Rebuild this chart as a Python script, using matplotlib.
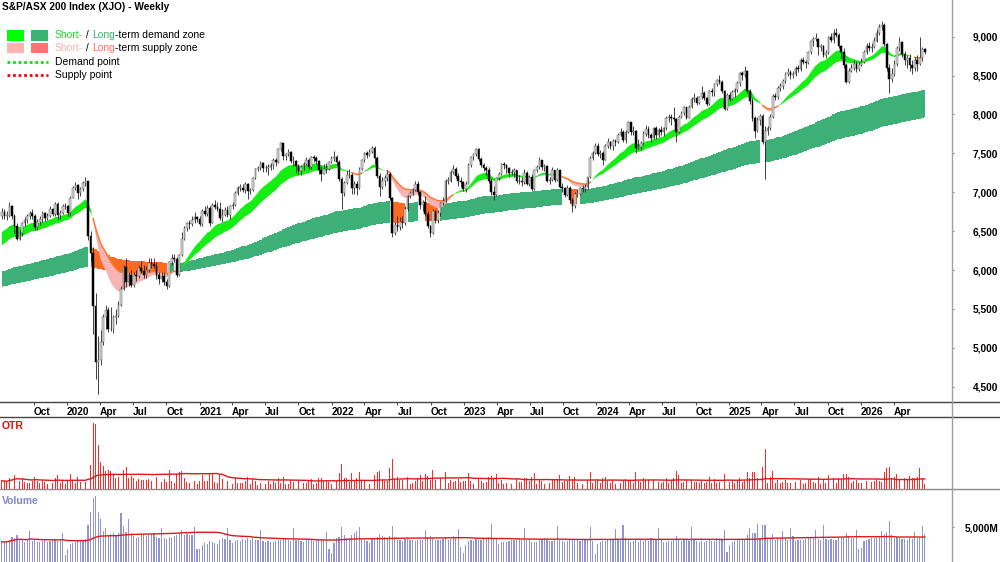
import numpy as np
import pandas as pd
import matplotlib
matplotlib.use("Agg")
import matplotlib.pyplot as plt
import matplotlib.dates as mdates
from matplotlib.lines import Line2D
from matplotlib.patches import Rectangle

plt.rcParams['font.family'] = ['Liberation Sans', 'DejaVu Sans']

# Weekly (Friday) closes, one list per calendar year
close_2019 = [6750, 6700, 6700, 6825, 6700, 6570, 6400, 6480, 6600, 6640, 6690, 6730, 6700,
              6550, 6620, 6650, 6730, 6670, 6700, 6790, 6720, 6850, 6710, 6730, 6820, 6820]
close_2020 = [6730, 6930, 7060, 7090, 6990, 7040, 7120, 7140, 6440, 6220, 5540, 4820, 4840,
              5070, 5390, 5490, 5240, 5240, 5390, 5410, 5550, 5750, 6040, 5850, 5940, 5810,
              5940, 5920, 6030, 5990, 5930, 6000, 6090, 6080, 6050, 5940, 5890, 5920, 5850,
              5790, 6100, 6160, 6140, 5930, 6190, 6400, 6540, 6600, 6590, 6640, 6680, 6660]
close_2021 = [6590, 6760, 6720, 6800, 6610, 6840, 6810, 6790, 6670, 6710, 6770, 6710, 6820,
              6830, 6990, 7060, 7060, 7030, 7100, 7010, 7030, 7180, 7300, 7310, 7370, 7310,
              7310, 7320, 7350, 7420, 7390, 7550, 7630, 7460, 7490, 7520, 7400, 7400, 7340,
              7270, 7320, 7360, 7410, 7320, 7450, 7440, 7400, 7280, 7240, 7300, 7300, 7390, 7440]
close_2022 = [7450, 7390, 7170, 6990, 7120, 7220, 7220, 7050, 7110, 7060, 7300, 7410, 7500,
              7480, 7520, 7570, 7440, 7210, 7070, 7150, 7180, 7240, 6930, 6480, 6580, 6550,
              6620, 6600, 6790, 6950, 6990, 7030, 7110, 7000, 6830, 6880, 6720, 6560, 6470,
              6760, 6640, 6730, 6860, 6890, 7150, 7150, 7260, 7300, 7210, 7150, 7130, 7040]
close_2023 = [7110, 7350, 7450, 7490, 7560, 7430, 7350, 7310, 7280, 7140, 7000, 6960, 7180,
              7240, 7360, 7350, 7310, 7250, 7260, 7280, 7150, 7140, 7130, 7250, 7110, 7200,
              7040, 7290, 7320, 7410, 7330, 7340, 7150, 7160, 7280, 7160, 7280, 7070, 7050,
              6960, 7050, 6900, 6820, 6980, 6980, 7050, 7040, 7070, 7190, 7440, 7500, 7590]
close_2024 = [7490, 7500, 7420, 7600, 7640, 7600, 7660, 7640, 7740, 7780, 7670, 7770, 7900,
              7780, 7790, 7570, 7580, 7630, 7750, 7810, 7730, 7700, 7820, 7730, 7800, 7770,
              7820, 7960, 7970, 7950, 7940, 7780, 7970, 8020, 8090, 7960, 8100, 8200, 8210,
              8150, 8220, 8280, 8210, 8140, 8300, 8290, 8390, 8440, 8420, 8300, 8070, 8250]
close_2025 = [8200, 8290, 8310, 8410, 8530, 8510, 8560, 8300, 8170, 7950, 7790, 7930, 7980,
              7650, 7790, 7820, 7970, 8240, 8230, 8340, 8360, 8430, 8520, 8550, 8510, 8520,
              8600, 8580, 8700, 8670, 8660, 8800, 8940, 8970, 8970, 8870, 8880, 8770, 8790,
              8990, 8960, 9050, 9020, 8880, 8800, 8640, 8420, 8560, 8600, 8650, 8580, 8640]
close_2026 = [8680, 8800, 8880, 8860, 8870, 8950, 9050, 9120, 9150, 8900, 8600, 8450, 8520,
              8650, 8850, 8930, 8780, 8700, 8720, 8640, 8600, 8700, 8650, 8720, 8840, 8800]

high_2019 = [6800, 6790, 6760, 6870, 6840, 6720, 6600, 6520, 6620, 6680, 6720, 6760, 6780,
             6720, 6650, 6690, 6760, 6750, 6730, 6820, 6800, 6880, 6870, 6770, 6850, 6860]
high_2020 = [6840, 6950, 7080, 7130, 7110, 7070, 7140, 7200, 7150, 6500, 6290, 5700, 5150,
             5230, 5430, 5550, 5520, 5520, 5420, 5500, 5600, 5800, 6070, 6150, 5980, 6000,
             5970, 6000, 6070, 6110, 6060, 6050, 6150, 6150, 6160, 6100, 5980, 5970, 5980,
             5880, 6110, 6210, 6200, 6170, 6210, 6490, 6560, 6620, 6640, 6690, 6740, 6700]
high_2021 = [6700, 6790, 6820, 6830, 6820, 6860, 6900, 6870, 6880, 6790, 6810, 6820, 6840,
             6870, 7010, 7080, 7110, 7100, 7130, 7120, 7060, 7200, 7310, 7340, 7400, 7390,
             7350, 7360, 7380, 7440, 7440, 7570, 7640, 7630, 7510, 7560, 7530, 7460, 7410,
             7360, 7350, 7390, 7450, 7440, 7470, 7480, 7460, 7420, 7340, 7360, 7380, 7400, 7460]
high_2022 = [7530, 7480, 7420, 7200, 7140, 7290, 7300, 7250, 7140, 7150, 7320, 7430, 7520,
             7530, 7560, 7600, 7590, 7460, 7250, 7200, 7220, 7280, 7260, 6940, 6620, 6700,
             6680, 6700, 6820, 6960, 7020, 7060, 7140, 7140, 7020, 6900, 6950, 6760, 6580,
             6790, 6770, 6770, 6880, 6940, 7170, 7200, 7280, 7350, 7320, 7250, 7190, 7150]
high_2023 = [7140, 7370, 7470, 7510, 7570, 7570, 7450, 7380, 7340, 7320, 7180, 7080, 7200,
             7260, 7380, 7390, 7360, 7330, 7300, 7310, 7290, 7220, 7200, 7300, 7270, 7220,
             7230, 7300, 7350, 7450, 7420, 7360, 7350, 7200, 7320, 7290, 7310, 7290, 7120,
             7070, 7090, 7080, 6920, 7000, 7040, 7070, 7090, 7110, 7200, 7460, 7530, 7630]
high_2024 = [7630, 7540, 7530, 7620, 7700, 7660, 7690, 7680, 7760, 7830, 7800, 7800, 7910,
             7900, 7850, 7800, 7690, 7660, 7790, 7870, 7850, 7760, 7840, 7850, 7830, 7850,
             7840, 7980, 8010, 8010, 8100, 7950, 7990, 8050, 8110, 8100, 8120, 8230, 8280,
             8240, 8240, 8360, 8300, 8230, 8320, 8340, 8410, 8460, 8510, 8440, 8310, 8270]
high_2025 = [8290, 8320, 8340, 8430, 8550, 8560, 8620, 8570, 8330, 8210, 7980, 7970, 8010,
             8000, 7850, 7850, 8000, 8260, 8280, 8360, 8400, 8450, 8550, 8600, 8570, 8560,
             8620, 8640, 8720, 8740, 8700, 8820, 8950, 9000, 9050, 8980, 8900, 8890, 8830,
             9010, 9050, 9100, 9110, 9050, 8890, 8850, 8660, 8600, 8650, 8700, 8690, 8670]
high_2026 = [8720, 8830, 8920, 8930, 8920, 8990, 9100, 9160, 9200, 9170, 8920, 8650, 8600,
             8700, 8880, 8990, 8950, 8820, 8760, 8780, 8700, 8740, 8760, 8990, 8870, 8860]

low_2019 = [6660, 6660, 6640, 6680, 6660, 6480, 6380, 6380, 6440, 6560, 6610, 6660, 6650,
            6510, 6520, 6580, 6620, 6630, 6640, 6680, 6700, 6700, 6640, 6660, 6720, 6780]
low_2020 = [6700, 6700, 6920, 7030, 6910, 6950, 7010, 7080, 6380, 6100, 5180, 4600, 4400,
            4780, 5040, 5240, 5200, 5220, 5190, 5310, 5400, 5540, 5740, 5780, 5800, 5780,
            5780, 5860, 5900, 5960, 5900, 5900, 5980, 6020, 6030, 5890, 5820, 5850, 5810,
            5760, 5780, 6070, 6100, 5910, 5920, 6180, 6380, 6500, 6530, 6570, 6600, 6620]
low_2021 = [6560, 6560, 6690, 6700, 6570, 6600, 6780, 6760, 6640, 6620, 6690, 6680, 6660,
            6790, 6820, 6970, 7010, 7000, 6990, 6910, 6980, 7020, 7170, 7270, 7290, 7260,
            7260, 7220, 7290, 7300, 7340, 7380, 7530, 7420, 7420, 7470, 7370, 7340, 7250,
            7230, 7220, 7290, 7350, 7300, 7300, 7390, 7360, 7240, 7150, 7230, 7250, 7280, 7370]
low_2022 = [7400, 7350, 7150, 6780, 6950, 7100, 7180, 6980, 6980, 6970, 7040, 7290, 7390,
            7440, 7470, 7500, 7360, 7180, 6950, 7040, 7080, 7150, 6900, 6430, 6450, 6500,
            6520, 6540, 6580, 6760, 6930, 6960, 7010, 6960, 6790, 6760, 6700, 6540, 6430,
            6460, 6610, 6600, 6700, 6830, 6880, 7100, 7130, 7230, 7180, 7080, 7070, 7020]
low_2023 = [7000, 7100, 7330, 7420, 7460, 7400, 7320, 7270, 7220, 7120, 6960, 6900, 6950,
            7160, 7220, 7300, 7250, 7200, 7220, 7200, 7120, 7100, 7080, 7110, 7090, 7080,
            7020, 7030, 7260, 7300, 7280, 7270, 7130, 7100, 7150, 7130, 7150, 7050, 7000,
            6940, 6950, 6860, 6750, 6800, 6940, 6960, 7000, 7000, 7040, 7180, 7420, 7490]
low_2024 = [7460, 7440, 7350, 7410, 7570, 7560, 7540, 7590, 7630, 7720, 7640, 7630, 7760,
            7740, 7740, 7510, 7550, 7540, 7610, 7720, 7700, 7640, 7690, 7680, 7710, 7740,
            7720, 7800, 7900, 7870, 7920, 7640, 7760, 7950, 7990, 7940, 7950, 8080, 8160,
            8120, 8130, 8200, 8190, 8110, 8120, 8240, 8240, 8360, 8390, 8270, 8060, 8060]
low_2025 = [8170, 8180, 8230, 8290, 8370, 8440, 8480, 8280, 8140, 7920, 7700, 7780, 7870,
            7620, 7170, 7740, 7800, 7950, 8180, 8200, 8300, 8330, 8400, 8500, 8460, 8470,
            8500, 8550, 8560, 8650, 8600, 8650, 8780, 8880, 8940, 8770, 8820, 8740, 8720,
            8780, 8930, 8920, 9000, 8860, 8720, 8600, 8410, 8400, 8540, 8570, 8540, 8560]
low_2026 = [8620, 8660, 8780, 8820, 8800, 8850, 8930, 9020, 9080, 8880, 8560, 8280, 8420,
            8500, 8620, 8820, 8740, 8640, 8600, 8560, 8520, 8560, 8560, 8630, 8690, 8780]

# Weekly volume, millions
vol_2019 = [2900, 2800, 3000, 3100, 3600, 3400, 3800, 3200, 3300, 2900, 3100, 4400, 3000,
            3100, 2900, 2800, 3000, 3100, 2900, 3000, 3200, 3300, 3000, 3100, 4200, 1000]
vol_2020 = [1900, 2600, 2700, 2800, 3000, 3100, 3000, 3300, 5300, 7200, 9100, 9400, 7200,
            6200, 4400, 4800, 3900, 4000, 4100, 3800, 4200, 7000, 5100, 4300, 6200, 4200,
            3700, 3500, 3600, 3800, 3900, 3700, 3800, 4000, 4100, 3600, 3400, 4900, 3400,
            3300, 3600, 3500, 3700, 3800, 4200, 4600, 3900, 4000, 3900, 3800, 5000, 1800]
vol_2021 = [1900, 2500, 2700, 2600, 3000, 2800, 2700, 2600, 3100, 3400, 3300, 4800, 3200,
            2700, 3000, 3100, 3000, 3300, 3200, 3500, 3100, 3400, 3200, 3100, 4600, 3000,
            2900, 3000, 2900, 2800, 3000, 3100, 3200, 3300, 3300, 3100, 3000, 4900, 3200,
            3100, 3000, 2900, 3100, 3300, 3200, 3000, 3100, 3200, 3300, 3200, 4300, 1900, 1300]
vol_2022 = [2700, 3400, 3600, 5000, 3800, 3500, 3400, 3900, 4200, 4400, 5000, 3500, 3200,
            3000, 2700, 3300, 3400, 3600, 4000, 3700, 3600, 3400, 3700, 5200, 3600, 3200,
            3100, 3000, 3300, 3400, 3200, 3100, 3000, 3100, 3200, 3100, 4600, 3600, 3700,
            3400, 3200, 3100, 3200, 3300, 3600, 3200, 3300, 3700, 3400, 4700, 2200, 1300]
vol_2023 = [2500, 3000, 3100, 3000, 3300, 3200, 3100, 3400, 3400, 3600, 5400, 3500, 3300,
            2600, 2900, 2800, 2900, 3000, 3100, 3200, 3300, 3400, 3100, 4900, 3200, 3300,
            2800, 2900, 2900, 3100, 3300, 3400, 3200, 3000, 3000, 3100, 5200, 3100, 3000,
            2900, 3000, 3100, 3200, 3200, 3100, 3000, 3100, 3200, 3300, 5000, 3000, 1200]
vol_2024 = [2600, 2900, 3000, 3000, 3200, 3100, 3300, 4700, 3300, 3300, 5300, 3400, 3100,
            2900, 3000, 3300, 2800, 3100, 3000, 3100, 3000, 3500, 3200, 3100, 4800, 3100,
            2800, 2900, 3000, 3000, 3200, 3700, 3200, 3000, 3300, 3100, 3000, 5000, 3200,
            3000, 2900, 3000, 2900, 3000, 3100, 3000, 3000, 3400, 3200, 3100, 4600, 1500]
vol_2025 = [2400, 2900, 3000, 3100, 3200, 3300, 3200, 3800, 4800, 4100, 4200, 5400, 3500,
            5300, 5300, 3400, 3300, 4000, 3100, 3400, 3300, 4500, 3500, 3200, 4800, 3700,
            3000, 3100, 3200, 3100, 3300, 3400, 3600, 3400, 4600, 3300, 3200, 5300, 3300,
            3200, 3300, 3100, 3200, 3400, 3500, 3600, 4200, 3700, 3500, 3400, 4600, 1800]
vol_2026 = [2000, 3000, 3200, 3300, 3400, 3500, 3600, 3700, 4500, 4000, 4300, 5800, 3900,
            3500, 3600, 3400, 3300, 3300, 3200, 3400, 3300, 4300, 3500, 3400, 5100, 4000]

first_open = 6700
start_week = "2019-07-05"

# zone seeds read at the left edge of the chart
short_seed = (6455, 6288)
long_seed = (5970, 5775)

price_ticks = [4500, 5000, 5500, 6000, 6500, 7000, 7500, 8000, 8500, 9000]


def ema(values, alpha, seed):
    out = []
    v = seed
    for x in values:
        v = v + alpha * (x - v)
        out.append(v)
    return np.array(out)


close = np.array(close_2019 + close_2020 + close_2021 + close_2022 + close_2023
                 + close_2024 + close_2025 + close_2026, dtype=float)
high = np.array(high_2019 + high_2020 + high_2021 + high_2022 + high_2023
                + high_2024 + high_2025 + high_2026, dtype=float)
low = np.array(low_2019 + low_2020 + low_2021 + low_2022 + low_2023
               + low_2024 + low_2025 + low_2026, dtype=float)
vol = np.array(vol_2019 + vol_2020 + vol_2021 + vol_2022 + vol_2023
               + vol_2024 + vol_2025 + vol_2026, dtype=float)
opn = np.concatenate([[first_open], close[:-1]])

dates = pd.date_range(start_week, periods=len(close), freq="W-FRI")
x = mdates.date2num(dates)

# zones
st_fast = ema(close, 0.11, short_seed[0])
st_slow = ema(close, 0.065, short_seed[1])
lt_fast = ema(close, 0.015, long_seed[0])
lt_slow = ema(close, 0.009, long_seed[1])

prev_close = opn
true_range = np.maximum(high, prev_close) - np.minimum(low, prev_close)
otr_avg = pd.Series(true_range).rolling(52, min_periods=1).mean().values
vol_avg = pd.Series(vol).rolling(52, min_periods=1).mean().values

# layout (pixels of a 1000x562 canvas)
fig = plt.figure(figsize=(10, 5.62), dpi=100)
W = 952 / 1000
ax = fig.add_axes([0, 160 / 562, W, 402 / 562])
ax_otr = fig.add_axes([0, 73 / 562, W, 72 / 562])
ax_vol = fig.add_axes([0, 0, W, 73 / 562])

xmin = mdates.date2num(pd.Timestamp("2019-06-30"))
xmax = mdates.date2num(pd.Timestamp("2026-09-09"))

# long-term zone
lt_supply = close < lt_fast
ax.fill_between(x, lt_slow, lt_fast, where=~lt_supply, step='mid',
                color='#3DB077', lw=0, zorder=1)
ax.fill_between(x, lt_slow, lt_fast, where=lt_supply, step='mid',
                color='#FF6A22', lw=0, zorder=1)

# short-term zone
st_supply = st_fast < st_slow
ax.fill_between(x, st_slow, st_fast, where=~st_supply, interpolate=True,
                color='#14EE14', lw=0, zorder=2)
ax.fill_between(x, st_slow, st_fast, where=st_supply, interpolate=True,
                color='#F8B4B4', lw=0, zorder=2)
ax.plot(x, np.where(st_supply, st_slow, np.nan), color='#FF7A35', lw=1.1, zorder=2)

# candles
ax.vlines(x, low, high, color='#222222', lw=0.6, zorder=3)
up = close >= opn
body_lo = np.minimum(opn, close)
body_h = np.maximum(np.abs(close - opn), 8)
ax.bar(x[up], body_h[up], bottom=body_lo[up], width=4.6, color='#DDDDDD',
       edgecolor='#555555', lw=0.35, zorder=4)
ax.bar(x[~up], body_h[~up], bottom=body_lo[~up], width=4.6, color='black',
       edgecolor='black', lw=0.35, zorder=4)

ax.set_xlim(xmin, xmax)
ax.set_ylim(4303, 9472)
ax.yaxis.tick_right()
ax.set_yticks(price_ticks)
ax.set_yticklabels([f"{t:,}" for t in price_ticks])
ax.tick_params(axis='y', direction='out', length=1.5, pad=31.8, labelsize=7.3,
               color='#888888')
for lab in ax.get_yticklabels():
    lab.set_horizontalalignment('right')
    lab.set_fontweight('bold')

qticks = pd.date_range("2019-10-01", "2026-04-01", freq="QS-JAN")
ax.set_xticks(mdates.date2num(qticks))
ax.set_xticklabels([str(d.year) if d.month == 1 else d.strftime("%b") for d in qticks])
ax.tick_params(axis='x', direction='out', length=2, pad=1.5, labelsize=7.3,
               color='#555555')
for lab in ax.get_xticklabels():
    lab.set_horizontalalignment('left')
    lab.set_fontweight('bold')

for a in (ax, ax_otr, ax_vol):
    for s in a.spines.values():
        s.set_visible(False)
    a.set_facecolor('none')

# OTR panel
ax_otr.bar(x, true_range, width=2.5, color='#FF2A2A', lw=0)
ax_otr.plot(x, otr_avg, color='#E01818', lw=1)
ax_otr.set_xlim(xmin, xmax)
ax_otr.set_ylim(0, 1220)
ax_otr.set_xticks([])
ax_otr.set_yticks([])

# volume panel
ax_vol.bar(x, vol, width=3.2, color='#9294D0', lw=0)
ax_vol.plot(x, vol_avg, color='#E01818', lw=1)
ax_vol.set_xlim(xmin, xmax)
ax_vol.set_ylim(0, 10430)
ax_vol.set_xticks([])
ax_vol.yaxis.tick_right()
ax_vol.set_yticks([5000])
ax_vol.set_yticklabels(["5,000M"])
ax_vol.tick_params(axis='y', direction='out', length=1.5, pad=31.8, labelsize=7.3,
                   color='#888888')
for lab in ax_vol.get_yticklabels():
    lab.set_horizontalalignment('right')
    lab.set_fontweight('bold')

# frame lines
for yy, col in [(402, '#444444'), (417, '#444444'), (489, '#8A8A8A')]:
    fig.add_artist(Line2D([0, 1], [1 - yy / 562] * 2, color=col, lw=1,
                          transform=fig.transFigure))
fig.add_artist(Line2D([W, W], [0, 1], color='#A0A0A0', lw=1, transform=fig.transFigure))

# panel labels
fig.text(0.002, 1 - 426 / 562, "OTR", color='#FF0000', fontsize=7.5,
         fontweight='bold', va='center')
fig.text(0.002, 1 - 501 / 562, "Volume", color='#8486C6', fontsize=7.5,
         fontweight='bold', va='center')

# title and legend
fig.text(0.002, 1 - 7.5 / 562, "S&P/ASX 200 Index (XJO) - Weekly", fontsize=7.3,
         fontweight='bold', va='center')

renderer = fig.canvas.get_renderer()


def rich_text(x_px, y_px, parts):
    xf = x_px / 1000
    for s, c in parts:
        t = fig.text(xf, 1 - y_px / 562, s, color=c, fontsize=7.5, va='center', ha='left')
        xf += t.get_window_extent(renderer).width / fig.bbox.width


def square(x_px, y_px, color):
    fig.add_artist(Rectangle((x_px / 1000, 1 - (y_px + 5) / 562), 17 / 1000, 10 / 562,
                             transform=fig.transFigure, color=color, lw=0))


square(7, 35.5, '#00FF00')
square(31, 35.5, '#3CB371')
rich_text(55, 35.5, [("Short-", '#22DD22'), (" / ", 'black'), ("Long", '#3CB371'),
                     ("-term demand zone", 'black')])
square(7, 48, '#FFB3B3')
square(31, 48, '#FF7373')
rich_text(55, 48, [("Short-", '#FFB0B0'), (" / ", 'black'), ("Long", '#FF6E6E'),
                   ("-term supply zone", 'black')])
fig.add_artist(Line2D([7 / 1000, 48 / 1000], [1 - 62 / 562] * 2, color='#11DD11', lw=2,
                      linestyle=(0, (1, 1)), transform=fig.transFigure))
rich_text(55, 62, [("Demand point", 'black')])
fig.add_artist(Line2D([7 / 1000, 48 / 1000], [1 - 74.5 / 562] * 2, color='#DD1111', lw=2,
                      linestyle=(0, (1, 1)), transform=fig.transFigure))
rich_text(55, 74.5, [("Supply point", 'black')])

fig.savefig("out.png", dpi=100)
